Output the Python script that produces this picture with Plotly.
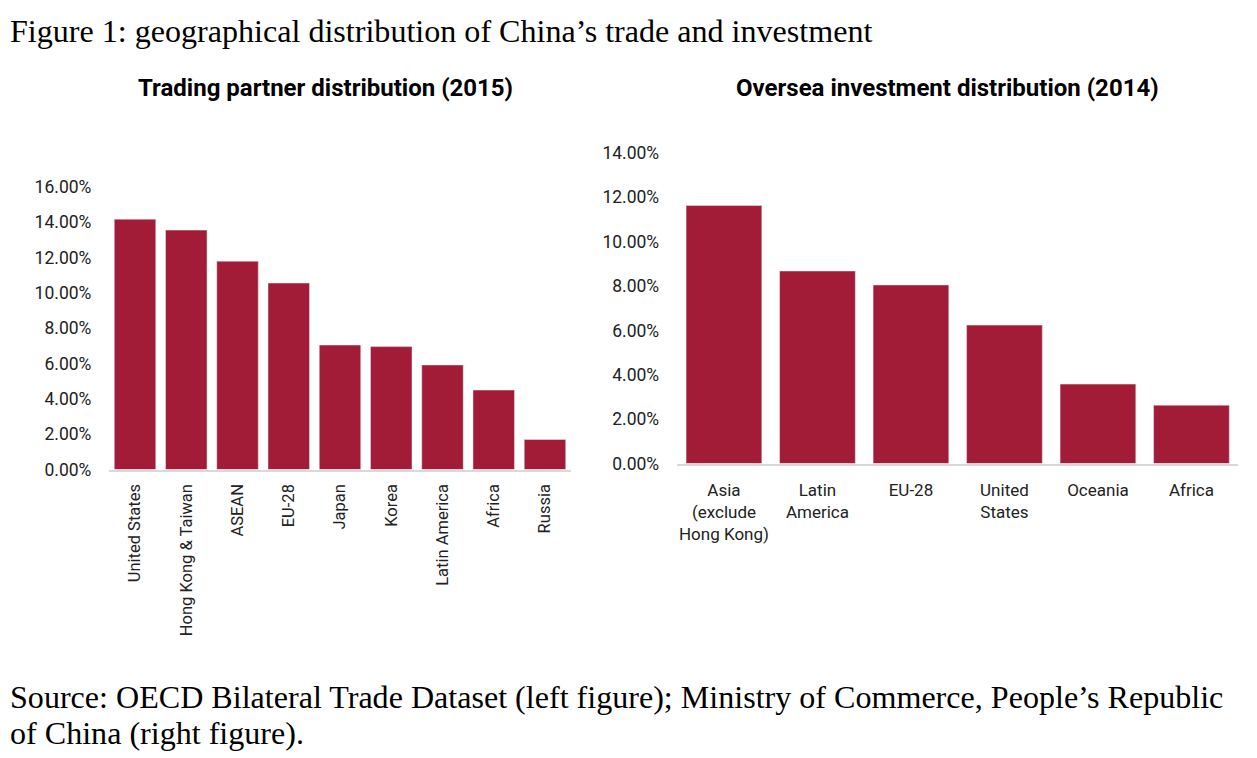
import plotly.graph_objects as go

W = 1257
H = 758

partners = ["United States", "Hong Kong & Taiwan", "ASEAN", "EU-28", "Japan", "Korea",
            "Latin America", "Africa", "Russia"]
partner_share = [14.18, 13.56, 11.8, 10.56, 7.05, 6.96, 5.92, 4.5, 1.7]

regions = ["Asia<br>(exclude<br>Hong Kong)", "Latin<br>America", "EU-28", "United<br>States",
           "Oceania", "Africa"]
invest_share = [11.63, 8.68, 8.05, 6.24, 3.58, 2.63]

left_ticks = [0, 2, 4, 6, 8, 10, 12, 14, 16]
left_labels = ["0.00%", "2.00%", "4.00%", "6.00%", "8.00%", "10.00%", "12.00%", "14.00%", "16.00%"]
right_ticks = [0, 2, 4, 6, 8, 10, 12, 14]
right_labels = ["0.00%", "2.00%", "4.00%", "6.00%", "8.00%", "10.00%", "12.00%", "14.00%"]

heading = "Figure 1: geographical distribution of China’s trade and investment"
source_1 = "Source: OECD Bilateral Trade Dataset (left figure); Ministry of Commerce, People’s Republic"
source_2 = "of China (right figure)."
left_title = "<b>Trading partner distribution (2015)</b>"
right_title = "<b>Oversea investment distribution (2014)</b>"

BAR = "#a31c37"
AXIS = "#d9d9d9"
SANS = "Roboto"
SERIF = "Liberation Serif"


def xfrac(px):
    return px / W


def yfrac(px):
    # pixel rows count from the top, paper coordinates from the bottom
    return 1 - px / H


fig = go.Figure()
fig.add_trace(go.Bar(x=partners, y=partner_share, marker_color=BAR, width=0.81,
                     xaxis="x", yaxis="y", showlegend=False))
fig.add_trace(go.Bar(x=regions, y=invest_share, marker_color=BAR, width=0.81,
                     xaxis="x2", yaxis="y2", showlegend=False))


def x_style(domain, anchor, angle, size, standoff):
    return dict(domain=domain, anchor=anchor, type="category", showgrid=False, zeroline=False,
                showline=True, linecolor=AXIS, linewidth=2, ticks="", tickangle=angle,
                ticklabelstandoff=standoff,
                tickfont=dict(family=SANS, size=size, color="#222222"))


def y_style(domain, anchor, top, ticks, labels):
    return dict(domain=domain, anchor=anchor, range=[0, top], tickvals=ticks, ticktext=labels,
                showgrid=False, zeroline=False, showline=False,
                ticks="", ticklabelstandoff=17, tickfont=dict(family=SANS, size=17.5, color="#222222"))


def note(text, x, y, size, family, anchor="left"):
    return dict(text=text, x=xfrac(x), y=yfrac(y), xref="paper", yref="paper", showarrow=False,
                xanchor=anchor, yanchor="middle", align="left",
                font=dict(family=family, size=size, color="black"))


fig.update_layout(
    width=W, height=H,
    margin=dict(l=0, r=0, t=0, b=0, autoexpand=False),
    paper_bgcolor="white", plot_bgcolor="white",
    bargap=0.19,
    xaxis=x_style([xfrac(109.4), xfrac(570.6)], "y", -90, 16.5, 6),
    yaxis=y_style([yfrac(469.5), yfrac(187)], "x", 16, left_ticks, left_labels),
    xaxis2=x_style([xfrac(677.2), xfrac(1238.2)], "y2", 0, 17, 10),
    yaxis2=y_style([yfrac(463.5), yfrac(153)], "x2", 14, right_ticks, right_labels),
    annotations=[
        note(heading, 8, 31, 32.1, SERIF),
        note(left_title, 325, 88, 24, SANS, anchor="center"),
        note(right_title, 947, 88, 24, SANS, anchor="center"),
        note(source_1, 8, 697, 32.1, SERIF),
        note(source_2, 8, 733, 32.1, SERIF),
    ],
)

fig.write_html("out.html", config=dict(displayModeBar=False),
               post_script="document.body.style.margin='0';")
